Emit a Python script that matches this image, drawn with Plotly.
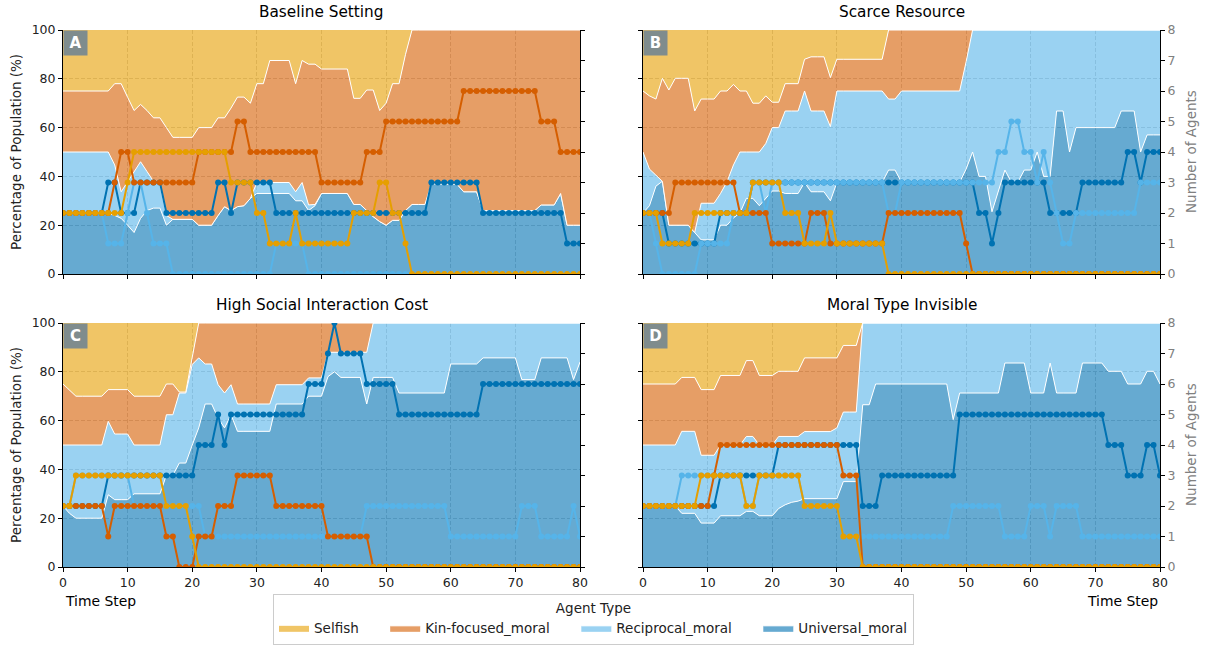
import plotly.graph_objects as go

# ---------------------------------------------------------------------------
# Data: time steps, agent counts per type (right axis) and the stacked
# population shares (left axis, cumulative tops of each band, in %).
# ---------------------------------------------------------------------------
steps = list(range(81))

agent_types = ["Selfish", "Kin-focused_moral", "Reciprocal_moral", "Universal_moral"]
panel_titles = ["Baseline Setting", "Scarce Resource",
                "High Social Interaction Cost", "Moral Type Invisible"]
panel_letters = ["A", "B", "C", "D"]
pct_ticks = [0, 20, 40, 60, 80, 100]
count_ticks = [0, 1, 2, 3, 4, 5, 6, 7, 8]
step_ticks = [0, 10, 20, 30, 40, 50, 60, 70, 80]

# ---- Baseline Setting -------------------------------------------------------
a_selfish = [2, 2, 2, 2, 2, 2, 2, 2, 2, 2,
             3, 4, 4, 4, 4, 4, 4, 4, 4, 4,
             4, 4, 4, 4, 4, 4, 3, 3, 3, 3,
             2, 2, 1, 1, 1, 1, 2, 1, 1, 1,
             1, 1, 1, 1, 1, 2, 2, 2, 2, 3,
             3, 2, 2, 1, 0, 0, 0, 0, 0, 0,
             0, 0, 0, 0, 0, 0, 0, 0, 0, 0,
             0, 0, 0, 0, 0, 0, 0, 0, 0, 0,
             0]
a_kin = [2, 2, 2, 2, 2, 2, 2, 2, 3, 4,
         4, 3, 3, 3, 3, 3, 3, 3, 3, 3,
         3, 4, 4, 4, 4, 4, 4, 5, 5, 4,
         4, 4, 4, 4, 4, 4, 4, 4, 4, 4,
         3, 3, 3, 3, 3, 3, 3, 4, 4, 4,
         5, 5, 5, 5, 5, 5, 5, 5, 5, 5,
         5, 5, 6, 6, 6, 6, 6, 6, 6, 6,
         6, 6, 6, 6, 5, 5, 5, 4, 4, 4,
         4]
a_reciprocal = [2, 2, 2, 2, 2, 2, 2, 1, 1, 1,
                2, 3, 3, 2, 1, 1, 1, 0, 0, 0,
                0, 0, 0, 0, 0, 0, 0, 0, 0, 0,
                0, 0, 0, 1, 1, 1, 1, 1, 0, 0,
                0, 0, 0, 0, 0, 0, 0, 0, 0, 0,
                0, 0, 0, 0, 0, 0, 0, 0, 0, 0,
                0, 0, 0, 0, 0, 0, 0, 0, 0, 0,
                0, 0, 0, 0, 0, 0, 0, 0, 0, 0,
                0]
a_universal = [2, 2, 2, 2, 2, 2, 2, 3, 3, 2,
               2, 2, 3, 3, 3, 3, 2, 2, 2, 2,
               2, 2, 2, 2, 3, 3, 2, 3, 3, 3,
               3, 3, 3, 2, 2, 2, 2, 2, 2, 2,
               2, 2, 2, 2, 2, 2, 2, 2, 2, 2,
               2, 2, 2, 2, 2, 2, 2, 3, 3, 3,
               3, 3, 3, 3, 3, 2, 2, 2, 2, 2,
               2, 2, 2, 2, 2, 2, 2, 2, 1, 1,
               1]
a_universal_top = [25, 25, 25, 25, 25, 25, 25, 25, 24, 22.8,
                   20, 17, 22.8, 26, 27, 27, 20, 22.4, 22.4, 22.4,
                   22.4, 20, 20, 20, 24, 27.6, 26, 27.6, 28, 31,
                   33, 33, 33, 33, 33, 33, 30, 30, 26, 28,
                   33, 33, 33, 33, 33, 28.5, 28.5, 26, 23.5, 21.5,
                   20, 22, 22, 26, 28.5, 28.5, 28.5, 37, 37, 37,
                   37, 36.7, 33.7, 33.7, 33.7, 26, 26, 26, 26, 26,
                   26, 26, 26, 26, 28.3, 28.3, 28.3, 33, 20, 20,
                   20]
a_reciprocal_top = [50, 50, 50, 50, 50, 50, 50, 50, 44.7, 33.7,
                    37.8, 42, 46, 42, 38, 36.5, 24, 22.4, 22.4, 22.4,
                    22.4, 20, 20, 20, 24, 27.6, 26, 27.6, 28, 31,
                    37.5, 37.5, 37.5, 37.5, 37.5, 37.5, 33.7, 37.5, 28.3, 28.5,
                    33, 33, 33, 33, 33, 28.5, 28.5, 26, 23.5, 21.5,
                    20, 22, 22, 26, 28.5, 28.5, 28.5, 37, 37, 37,
                    37, 36.7, 33.7, 33.7, 33.7, 26, 26, 26, 26, 26,
                    26, 26, 26, 26, 28.3, 28.3, 28.3, 33, 20, 20,
                    20]
a_kin_top = [75, 75, 75, 75, 75, 75, 75, 75, 78, 78,
             72.4, 67, 69.5, 67, 64, 64, 60, 56, 56, 56,
             56, 60, 60, 60, 64, 64, 68, 72.5, 72.5, 70,
             78, 78, 87.5, 87.5, 87.5, 87.5, 78, 87.5, 86, 86,
             84, 84, 84, 84, 84, 72, 72, 75.4, 75.4, 67,
             70, 78, 78, 90, 100, 100, 100, 100, 100, 100,
             100, 100, 100, 100, 100, 100, 100, 100, 100, 100,
             100, 100, 100, 100, 100, 100, 100, 100, 100, 100,
             100]

# ---- Scarce Resource --------------------------------------------------------
b_selfish = [2, 2, 2, 1, 1, 1, 1, 1, 2, 2,
             2, 2, 2, 2, 2, 2, 2, 3, 3, 3,
             3, 3, 2, 2, 2, 1, 1, 1, 1, 2,
             1, 1, 1, 1, 1, 1, 1, 1, 0, 0,
             0, 0, 0, 0, 0, 0, 0, 0, 0, 0,
             0, 0, 0, 0, 0, 0, 0, 0, 0, 0,
             0, 0, 0, 0, 0, 0, 0, 0, 0, 0,
             0, 0, 0, 0, 0, 0, 0, 0, 0, 0,
             0]
b_kin = [2, 2, 2, 2, 2, 3, 3, 3, 3, 3,
         3, 3, 3, 3, 3, 2, 2, 2, 2, 2,
         1, 1, 1, 1, 1, 1, 2, 2, 2, 1,
         1, 1, 1, 1, 1, 1, 1, 1, 2, 2,
         2, 2, 2, 2, 2, 2, 2, 2, 2, 2,
         1, 0, 0, 0, 0, 0, 0, 0, 0, 0,
         0, 0, 0, 0, 0, 0, 0, 0, 0, 0,
         0, 0, 0, 0, 0, 0, 0, 0, 0, 0,
         0]
b_reciprocal = [2, 2, 1, 0, 0, 0, 0, 0, 0, 1,
                1, 1, 1, 1, 2, 2, 2, 3, 3, 2,
                3, 3, 3, 3, 3, 3, 3, 3, 3, 3,
                3, 3, 3, 3, 3, 3, 3, 3, 2, 2,
                3, 3, 3, 3, 3, 3, 3, 3, 3, 3,
                3, 3, 3, 3, 3, 4, 4, 5, 5, 4,
                4, 3, 4, 3, 2, 1, 1, 2, 2, 2,
                2, 2, 2, 2, 2, 2, 2, 3, 3, 3,
                3]
b_universal = [2, 2, 2, 2, 1, 1, 1, 1, 1, 1,
               1, 1, 2, 2, 2, 2, 2, 3, 3, 3,
               3, 3, 3, 3, 3, 3, 3, 3, 3, 3,
               3, 3, 3, 3, 3, 3, 3, 3, 3, 3,
               3, 3, 3, 3, 3, 3, 3, 3, 3, 3,
               3, 3, 2, 2, 1, 2, 3, 3, 3, 3,
               3, 3, 3, 2, 2, 2, 2, 2, 3, 3,
               3, 3, 3, 3, 3, 4, 4, 3, 4, 4,
               4]
b_universal_top = [25, 28, 36, 38, 20, 20, 20, 20, 17, 14,
                   14, 14, 20, 20, 23, 25, 31, 31, 28, 31,
                   34, 34, 33, 33, 33, 37.5, 33.7, 33.7, 33.7, 30,
                   37.5, 37.5, 37.5, 37.5, 37.5, 37.5, 37.5, 37.5, 42.6, 42.6,
                   37.6, 37.6, 37.6, 37.6, 37.6, 37.6, 37.6, 37.6, 37.6, 37.6,
                   43, 50, 40, 40, 25.5, 34, 42.6, 37.6, 37.6, 42.6,
                   42.6, 50, 40, 40, 66.8, 66.8, 50, 60, 60, 60,
                   60, 60, 60, 60, 66.8, 66.8, 66.8, 50, 57, 57,
                   57]
b_reciprocal_top = [50, 43, 40.5, 38, 20, 20, 20, 20, 17, 29,
                    29, 29, 33, 37.8, 44.7, 50, 50, 50, 50, 53.5,
                    60, 60, 66.8, 66.8, 66.8, 75, 66.8, 66.8, 66.8, 60.4,
                    75, 75, 75, 75, 75, 75, 75, 75, 71.7, 71.7,
                    75, 75, 75, 75, 75, 75, 75, 75, 75, 75,
                    87, 100, 100, 100, 100, 100, 100, 100, 100, 100,
                    100, 100, 100, 100, 100, 100, 100, 100, 100, 100,
                    100, 100, 100, 100, 100, 100, 100, 100, 100, 100,
                    100]
b_kin_top = [75, 73, 71.7, 80.2, 75.4, 80.2, 80.2, 80.2, 66.8, 71.7,
             71.7, 71.7, 75, 75, 77.7, 75, 75, 70, 70, 73,
             70.4, 70.4, 78, 78, 78, 88, 89, 89, 89, 80.5,
             88, 88, 88, 88, 88, 88, 88, 88, 100, 100,
             100, 100, 100, 100, 100, 100, 100, 100, 100, 100,
             100, 100, 100, 100, 100, 100, 100, 100, 100, 100,
             100, 100, 100, 100, 100, 100, 100, 100, 100, 100,
             100, 100, 100, 100, 100, 100, 100, 100, 100, 100,
             100]

# ---- High Social Interaction Cost -------------------------------------------
c_selfish = [2, 2, 3, 3, 3, 3, 3, 3, 3, 3,
             3, 3, 3, 3, 3, 3, 2, 2, 2, 2,
             1, 0, 0, 0, 0, 0, 0, 0, 0, 0,
             0, 0, 0, 0, 0, 0, 0, 0, 0, 0,
             0, 0, 0, 0, 0, 0, 0, 0, 0, 0,
             0, 0, 0, 0, 0, 0, 0, 0, 0, 0,
             0, 0, 0, 0, 0, 0, 0, 0, 0, 0,
             0, 0, 0, 0, 0, 0, 0, 0, 0, 0,
             0]
c_kin = [2, 2, 2, 2, 2, 2, 2, 1, 2, 2,
         2, 2, 2, 2, 2, 2, 1, 1, 0, 0,
         0, 1, 1, 1, 2, 2, 2, 3, 3, 3,
         3, 3, 3, 2, 2, 2, 2, 2, 2, 2,
         2, 1, 1, 1, 1, 1, 1, 1, 0, 0,
         0, 0, 0, 0, 0, 0, 0, 0, 0, 0,
         0, 0, 0, 0, 0, 0, 0, 0, 0, 0,
         0, 0, 0, 0, 0, 0, 0, 0, 0, 0,
         0]
c_reciprocal = [2, 2, 3, 3, 3, 3, 3, 3, 3, 3,
                3, 2, 2, 2, 2, 2, 2, 2, 2, 2,
                2, 2, 1, 1, 1, 1, 1, 1, 1, 1,
                1, 1, 1, 1, 1, 1, 1, 1, 1, 1,
                1, 1, 1, 1, 1, 1, 1, 2, 2, 2,
                2, 2, 2, 2, 2, 2, 2, 2, 2, 2,
                1, 1, 1, 1, 1, 1, 1, 1, 1, 1,
                1, 2, 2, 2, 1, 1, 1, 1, 1, 2,
                1]
c_universal = [2, 2, 2, 2, 2, 2, 2, 3, 3, 3,
               3, 3, 3, 3, 3, 3, 3, 3, 3, 3,
               3, 4, 4, 4, 5, 4, 5, 5, 5, 5,
               5, 5, 5, 5, 5, 5, 5, 5, 6, 6,
               6, 7, 8, 7, 7, 7, 7, 6, 6, 6,
               6, 6, 5, 5, 5, 5, 5, 5, 5, 5,
               5, 5, 5, 5, 5, 6, 6, 6, 6, 6,
               6, 6, 6, 6, 6, 6, 6, 6, 6, 6,
               6]
c_universal_top = [25, 22, 20, 20, 20, 20, 20, 29.6, 27.6, 27.6,
                   27.6, 30, 30, 30, 30, 30, 37.6, 37.6, 42.6, 42.6,
                   50, 57, 66.8, 66.8, 61, 57, 62.4, 55.6, 55.6, 55.6,
                   55.6, 55.6, 55.6, 66.8, 66.8, 66.8, 66.8, 66.8, 70, 70,
                   70, 78, 80, 77.7, 77.7, 77.7, 77.7, 66.8, 77.7, 77.7,
                   77.7, 77.7, 71.3, 71.3, 71.3, 71.3, 71.3, 71.3, 71.3, 71.3,
                   83.2, 83.2, 83.2, 83.2, 83.2, 85.7, 85.7, 85.7, 85.7, 85.7,
                   85.7, 76.8, 76.8, 76.8, 85.7, 85.7, 85.7, 85.7, 85.7, 76.8,
                   84]
c_reciprocal_top = [50, 50, 50, 50, 50, 50, 50, 59.7, 54.5, 54.5,
                    54.5, 50, 50, 50, 50, 50, 62.4, 62.4, 71.3, 71.3,
                    83, 85.7, 83.2, 83.2, 74.7, 71.3, 74.7, 66.8, 66.8, 66.8,
                    66.8, 66.8, 66.8, 74.7, 74.7, 74.7, 74.7, 74.7, 77.5, 77.5,
                    77.5, 88, 88, 88, 88, 88, 88, 88, 100, 100,
                    100, 100, 100, 100, 100, 100, 100, 100, 100, 100,
                    100, 100, 100, 100, 100, 100, 100, 100, 100, 100,
                    100, 100, 100, 100, 100, 100, 100, 100, 100, 100,
                    100]
c_kin_top = [75, 72.5, 70, 70, 70, 70, 70, 72.7, 72.7, 72.7,
             72.7, 70, 70, 70, 70, 70, 75, 75, 71.7, 71.7,
             86, 100, 100, 100, 100, 100, 100, 100, 100, 100,
             100, 100, 100, 100, 100, 100, 100, 100, 100, 100,
             100, 100, 100, 100, 100, 100, 100, 100, 100, 100,
             100, 100, 100, 100, 100, 100, 100, 100, 100, 100,
             100, 100, 100, 100, 100, 100, 100, 100, 100, 100,
             100, 100, 100, 100, 100, 100, 100, 100, 100, 100,
             100]

# ---- Moral Type Invisible ---------------------------------------------------
d_selfish = [2, 2, 2, 2, 2, 2, 2, 2, 2, 3,
             3, 3, 3, 3, 3, 3, 2, 2, 3, 3,
             3, 3, 3, 3, 3, 2, 2, 2, 2, 2,
             2, 1, 1, 1, 0, 0, 0, 0, 0, 0,
             0, 0, 0, 0, 0, 0, 0, 0, 0, 0,
             0, 0, 0, 0, 0, 0, 0, 0, 0, 0,
             0, 0, 0, 0, 0, 0, 0, 0, 0, 0,
             0, 0, 0, 0, 0, 0, 0, 0, 0, 0,
             0]
d_kin = [2, 2, 2, 2, 2, 2, 2, 2, 2, 2,
         2, 3, 4, 4, 4, 4, 4, 4, 4, 4,
         4, 4, 4, 4, 4, 4, 4, 4, 4, 4,
         4, 3, 3, 3, 0, 0, 0, 0, 0, 0,
         0, 0, 0, 0, 0, 0, 0, 0, 0, 0,
         0, 0, 0, 0, 0, 0, 0, 0, 0, 0,
         0, 0, 0, 0, 0, 0, 0, 0, 0, 0,
         0, 0, 0, 0, 0, 0, 0, 0, 0, 0,
         0]
d_reciprocal = [2, 2, 2, 2, 2, 2, 3, 3, 3, 3,
                3, 3, 3, 3, 3, 3, 2, 2, 3, 3,
                3, 3, 3, 3, 3, 2, 2, 2, 2, 2,
                2, 1, 1, 1, 1, 1, 1, 1, 1, 1,
                1, 1, 1, 1, 1, 1, 1, 1, 2, 2,
                2, 2, 2, 2, 2, 2, 1, 1, 1, 1,
                2, 2, 2, 1, 2, 2, 2, 2, 1, 1,
                1, 1, 1, 1, 1, 1, 1, 1, 1, 1,
                1]
d_universal = [2, 2, 2, 2, 2, 2, 2, 2, 2, 2,
               2, 2, 3, 3, 3, 3, 3, 3, 3, 3,
               3, 4, 4, 4, 4, 4, 4, 4, 4, 4,
               4, 4, 4, 4, 2, 2, 2, 3, 3, 3,
               3, 3, 3, 3, 3, 3, 3, 3, 3, 5,
               5, 5, 5, 5, 5, 5, 5, 5, 5, 5,
               5, 5, 5, 5, 5, 5, 5, 5, 5, 5,
               5, 5, 4, 4, 4, 3, 3, 3, 4, 4,
               3]
d_universal_top = [25, 25, 25, 25, 25, 25, 22, 22, 22, 18,
                   18, 18, 21, 21, 21, 21, 22.8, 22.8, 21, 21,
                   21, 24, 25.5, 26.5, 27, 28, 28, 28, 28, 28,
                   28, 35, 35, 35, 66.5, 66.5, 75, 75, 75, 75,
                   75, 75, 75, 75, 75, 75, 75, 75, 60.4, 71.3,
                   71.3, 71.3, 71.3, 71.3, 71.3, 71.3, 83.6, 83.6, 83.6, 83.6,
                   71.3, 71.3, 71.3, 83.6, 71.3, 71.3, 71.3, 71.3, 83.6, 83.6,
                   83.6, 83.6, 80.2, 80.2, 80.2, 75, 75, 75, 80.2, 80.2,
                   75]
d_reciprocal_top = [50, 50, 50, 50, 50, 50, 55.6, 55.6, 55.6, 45.8,
                    45.8, 45.8, 50, 50, 50, 50, 53.5, 53.5, 50, 50,
                    50, 53.5, 53.5, 53.5, 53.5, 55.5, 55.5, 55.5, 55.5, 55.5,
                    57, 63.5, 63.5, 63.5, 100, 100, 100, 100, 100, 100,
                    100, 100, 100, 100, 100, 100, 100, 100, 100, 100,
                    100, 100, 100, 100, 100, 100, 100, 100, 100, 100,
                    100, 100, 100, 100, 100, 100, 100, 100, 100, 100,
                    100, 100, 100, 100, 100, 100, 100, 100, 100, 100,
                    100]
d_kin_top = [75, 75, 75, 75, 75, 75, 77.7, 77.7, 77.7, 72.7,
             72.7, 72.7, 78.5, 78.5, 78.5, 78.5, 84.6, 84.6, 78.5, 78.5,
             78.5, 80.2, 80.2, 80.2, 80.2, 85.7, 85.7, 85.7, 85.7, 85.7,
             85.7, 90.8, 90.8, 90.8, 100, 100, 100, 100, 100, 100,
             100, 100, 100, 100, 100, 100, 100, 100, 100, 100,
             100, 100, 100, 100, 100, 100, 100, 100, 100, 100,
             100, 100, 100, 100, 100, 100, 100, 100, 100, 100,
             100, 100, 100, 100, 100, 100, 100, 100, 100, 100,
             100]

# The selfish band always reaches the full population.
full_population = [100] * len(steps)

# ---------------------------------------------------------------------------
# Styling
# ---------------------------------------------------------------------------
line_colors = {
    "Selfish": "#E69F00",
    "Kin-focused_moral": "#D55E00",
    "Reciprocal_moral": "#56B4E9",
    "Universal_moral": "#0072B2",
}
fill_colors = {
    "Selfish": "rgba(230,159,0,0.6)",
    "Kin-focused_moral": "rgba(213,94,0,0.6)",
    "Reciprocal_moral": "rgba(86,180,233,0.6)",
    "Universal_moral": "rgba(0,114,178,0.6)",
}
# trailing spacing widens the horizontal legend entries
legend_labels = {
    "Selfish": "Selfish" + "\u00a0" * 5,
    "Kin-focused_moral": "Kin-focused_moral" + "\u00a0" * 5,
    "Reciprocal_moral": "Reciprocal_moral" + "\u00a0" * 5,
    "Universal_moral": "Universal_moral",
}
FONT = "DejaVu Sans"
W, H = 1205, 649

panels = [
    dict(counts={"Selfish": a_selfish, "Kin-focused_moral": a_kin,
                 "Reciprocal_moral": a_reciprocal, "Universal_moral": a_universal},
         tops=(a_universal_top, a_reciprocal_top, a_kin_top)),
    dict(counts={"Selfish": b_selfish, "Kin-focused_moral": b_kin,
                 "Reciprocal_moral": b_reciprocal, "Universal_moral": b_universal},
         tops=(b_universal_top, b_reciprocal_top, b_kin_top)),
    dict(counts={"Selfish": c_selfish, "Kin-focused_moral": c_kin,
                 "Reciprocal_moral": c_reciprocal, "Universal_moral": c_universal},
         tops=(c_universal_top, c_reciprocal_top, c_kin_top)),
    dict(counts={"Selfish": d_selfish, "Kin-focused_moral": d_kin,
                 "Reciprocal_moral": d_reciprocal, "Universal_moral": d_universal},
         tops=(d_universal_top, d_reciprocal_top, d_kin_top)),
]

# plot-area placement in pixels (left, right, top, bottom)
boxes = [(63, 580, 30, 274), (643, 1160, 30, 274),
         (63, 580, 323, 567), (643, 1160, 323, 567)]

fig = go.Figure()
layout = dict(
    width=W, height=H,
    margin=dict(l=0, r=0, t=0, b=0, autoexpand=False),
    paper_bgcolor="white", plot_bgcolor="white",
    font=dict(family=FONT, size=12.5, color="#222222"),
    showlegend=True,
    annotations=[],
)

ranks = {"Selfish": 1, "Kin-focused_moral": 2,
         "Reciprocal_moral": 3, "Universal_moral": 4}

for i, panel in enumerate(panels):
    xname = "x" if i == 0 else f"x{i + 1}"
    ypct = "y" if i == 0 else f"y{2 * i + 1}"
    ycnt = f"y{2 * i + 2}"
    left, right, top, bottom = boxes[i]
    xdom = [left / W, right / W]
    ydom = [(H - bottom) / H, (H - top) / H]
    is_left = i % 2 == 0
    is_bottom = i >= 2

    axis_common = dict(showline=True, linecolor="black", linewidth=1,
                       ticks="outside", ticklen=4, tickwidth=1, tickcolor="black",
                       zeroline=False, automargin=False,
                       tickfont=dict(size=12.5, color="#222222"))
    layout["xaxis" if i == 0 else f"xaxis{i + 1}"] = dict(
        domain=xdom, range=[0, 80], anchor=ypct, tickvals=step_ticks,
        showticklabels=is_bottom, showgrid=True, gridcolor="#cfcfcf",
        gridwidth=1, griddash="4px,2px", **axis_common)
    layout["yaxis" if i == 0 else f"yaxis{2 * i + 1}"] = dict(
        domain=ydom, range=[0, 100], anchor=xname, tickvals=pct_ticks,
        showticklabels=is_left, showgrid=True, gridcolor="#cfcfcf",
        gridwidth=1, griddash="4px,2px", **axis_common)
    cnt_axis = dict(axis_common)
    cnt_axis["tickfont"] = dict(size=12.5, color="#808080")
    layout[f"yaxis{2 * i + 2}"] = dict(
        overlaying=ypct, side="right", anchor=xname, range=[0, 8],
        tickvals=count_ticks, showticklabels=not is_left, showgrid=False,
        **cnt_axis)

    # stacked population shares
    u_top, r_top, k_top = panel["tops"]
    bands = [("Universal_moral", u_top, "tozeroy", 1),
             ("Reciprocal_moral", r_top, "tonexty", 1),
             ("Kin-focused_moral", k_top, "tonexty", 1),
             ("Selfish", full_population, "tonexty", 0)]
    for name, yvals, fill, lw in bands:
        fig.add_trace(go.Scatter(
            x=steps, y=yvals, xaxis=xname, yaxis=ypct,
            mode="lines", fill=fill, fillcolor=fill_colors[name],
            line=dict(color="white", width=lw),
            name=legend_labels[name], legendgroup=name, legendrank=ranks[name],
            showlegend=(i == 0), hoverinfo="skip"))

    # agent counts
    for name in ["Universal_moral", "Reciprocal_moral", "Kin-focused_moral", "Selfish"]:
        fig.add_trace(go.Scatter(
            x=steps, y=panel["counts"][name], xaxis=xname, yaxis=ycnt,
            mode="lines+markers", line=dict(color=line_colors[name], width=2),
            marker=dict(color=line_colors[name], size=6),
            showlegend=False, legendgroup=name, hoverinfo="skip"))

    cx = (left + right) / 2 / W
    layout["annotations"].append(dict(
        text=panel_titles[i], x=cx, y=(H - (top - 18)) / H, xref="paper", yref="paper",
        xanchor="center", yanchor="middle", showarrow=False,
        font=dict(size=15.3, color="black", family=FONT)))
    layout["annotations"].append(dict(
        text=f"<b>{panel_letters[i]}</b>", x=left / W, y=(H - top) / H,
        xref="paper", yref="paper", xanchor="left", yanchor="top",
        showarrow=False, bgcolor="#7f8c8d", width=23, height=24, borderpad=0,
        font=dict(size=15, color="white", family=FONT)))
    mid = (H - (top + bottom) / 2) / H
    if is_left:
        layout["annotations"].append(dict(
            text="Percentage of Population (%)", x=16 / W, y=mid,
            xref="paper", yref="paper", textangle=-90, showarrow=False,
            xanchor="center", yanchor="middle",
            font=dict(size=13.5, color="#222222", family=FONT)))
    else:
        layout["annotations"].append(dict(
            text="Number of Agents", x=1191 / W, y=mid,
            xref="paper", yref="paper", textangle=-90, showarrow=False,
            xanchor="center", yanchor="middle",
            font=dict(size=13.5, color="#808080", family=FONT)))

layout["annotations"].append(dict(
    text="Time Step", x=63 / W, y=(H - 601) / H, xref="paper", yref="paper",
    xanchor="left", yanchor="middle", showarrow=False,
    font=dict(size=13.9, color="black", family=FONT)))
layout["annotations"].append(dict(
    text="Time Step", x=1160 / W, y=(H - 601) / H, xref="paper", yref="paper",
    xanchor="right", yanchor="middle", showarrow=False,
    font=dict(size=13.9, color="black", family=FONT)))

layout["legend"] = dict(
    orientation="h", x=593.5 / W, xanchor="center", y=(H - 645) / H, yanchor="bottom",
    bordercolor="#cccccc", borderwidth=1, bgcolor="white",
    font=dict(size=13.5, color="#222222", family=FONT),
    title=dict(text="Agent Type", side="top center",
               font=dict(size=13.5, color="#222222", family=FONT)),
    traceorder="normal", itemclick=False, itemdoubleclick=False)

fig.update_layout(**layout)
fig.write_html("out.html")
